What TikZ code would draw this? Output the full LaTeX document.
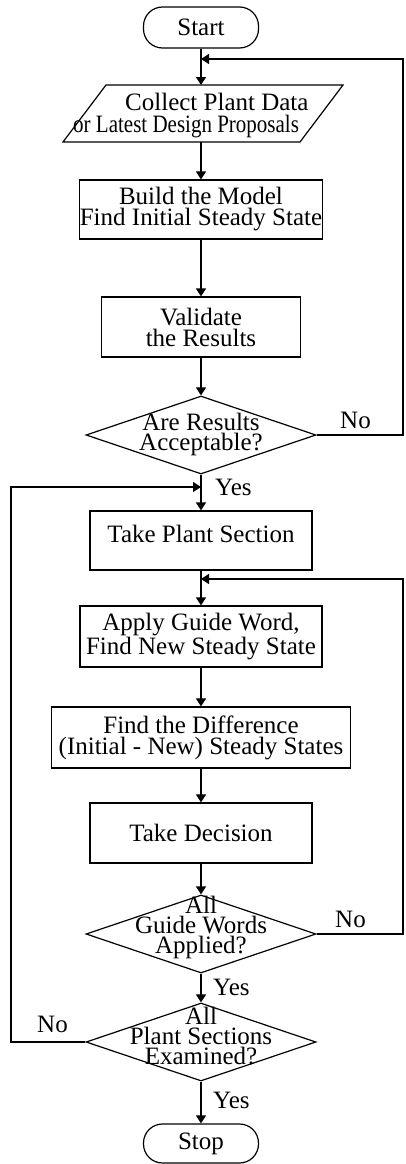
\documentclass[tikz,border=0pt]{standalone}
\usepackage{fontspec}
\setmainfont{Liberation Serif}
\usepackage{graphicx}
\usetikzlibrary{shapes.geometric,arrows.meta}
\begin{document}
\begin{tikzpicture}[x=1pt,y=-1pt,
  font=\fontsize{25}{21}\selectfont,
  ln/.style={line width=1.2pt},
  arr/.style={ln,-{Triangle[length=8pt,width=10pt]}},
  box/.style={draw,ln,rectangle,align=center,inner sep=0pt},
  term/.style={draw,ln,rectangle,rounded corners=19pt,inner sep=0pt,minimum width=115pt,minimum height=41pt},
  dia/.style={draw,ln,diamond,inner sep=0pt,minimum width=230pt,minimum height=78pt},
  lbl/.style={anchor=base west,inner sep=0pt},
  dtext/.style={align=center,inner sep=0pt,font=\fontsize{25}{20}\selectfont}]
\useasboundingbox (0,0) rectangle (405,1164);

% main nodes
\node[term] (start) at (201,27.5) {Start};
\coordinate (j1) at (201,59);
\coordinate (paraT) at (201,85);
\coordinate (paraB) at (201,142);
\draw[ln] (106,85) -- (343,85) -- (300,142) -- (63,142) -- cycle;
\node[lbl] (paraA) at (125,110) {Collect Plant Data};
\node[lbl] (paraC) at (73,132) {\scalebox{0.84}[1]{or Latest Design Proposals}};
\node[box,minimum width=240pt,minimum height=59pt] (build) at (201,209.5) {Build the Model\\Find Initial Steady State};
\node[box,minimum width=199pt,minimum height=60pt] (valid) at (201,327) {Validate\\the Results};
\node[dia] (d1) at (201,435) {};
\node[dtext] (d1t) at (201,434) {Are Results\\Acceptable?};
\coordinate (j2) at (201,487);
\node[box,minimum width=222pt,minimum height=59pt,text height=17pt,text depth=14pt] (tps) at (201,540.5) {Take Plant Section};
\coordinate (j3) at (201,579);
\node[box,minimum width=242pt,minimum height=61pt] (apply) at (201,636.5) {Apply Guide Word,\\Find New Steady State};
\node[box,minimum width=299pt,minimum height=61pt] (diff) at (201,737.5) {Find the Difference\\(Initial - New) Steady States};
\node[box,minimum width=222pt,minimum height=60pt] (dec) at (201,833) {Take Decision};
\node[dia] (d2) at (201,934) {};
\node[dtext] (d2t) at (201,927.5) {All\\Guide Words\\Applied?};
\node[dia] (d3) at (201,1042) {};
\node[dtext] (d3t) at (201,1036) {All\\Plant Sections\\Examined?};
\node[term,minimum height=39pt] (stop) at (201,1143.5) {Stop};

% loop corners
\coordinate (rA) at (403,435);
\coordinate (rB) at (403,59);
\coordinate (rC) at (403,934);
\coordinate (rD) at (403,579);
\coordinate (lA) at (11,1042);
\coordinate (lB) at (11,487);

% connectors
\draw[arr] (start) -- (paraT);
\draw[arr] (paraB) -- (build);
\draw[arr] (build) -- (valid);
\draw[arr] (valid) -- (d1);
\draw[arr] (d1) -- (tps);
\draw[arr] (tps) -- (apply);
\draw[arr] (apply) -- (diff);
\draw[arr] (diff) -- (dec);
\draw[arr] (dec) -- (d2);
\draw[arr] (d2) -- (d3);
\draw[arr] (d3) -- (stop);
\draw[arr] (d1.east) -- (rA) -- (rB) -- (j1);
\draw[arr] (d2.east) -- (rC) -- (rD) -- (j3);
\draw[arr] (d3.west) -- (lA) -- (lB) -- (j2);

% labels
\node[lbl] (no1) at (340,428) {No};
\node[lbl] (yes1) at (215,495) {Yes};
\node[lbl] (no2) at (335,927) {No};
\node[lbl] (yes2) at (213,995) {Yes};
\node[lbl] (no3) at (37,1032) {No};
\node[lbl] (yes3) at (213,1108) {Yes};
\end{tikzpicture}
\end{document}
